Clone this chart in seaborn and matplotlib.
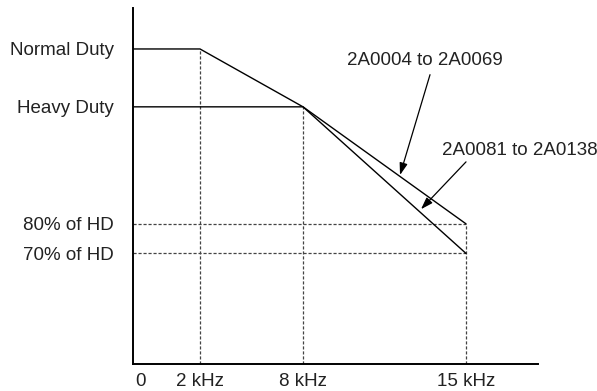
import matplotlib
matplotlib.use("Agg")
import matplotlib.pyplot as plt
import seaborn as sns
import pandas as pd

# Schematic derating chart (axes are not to scale)

freq_labels = ["0", "2 kHz", "8 kHz", "15 kHz"]
freq_pos = [7, 67, 170, 333]

level_labels = ["Normal Duty", "Heavy Duty", "80% of HD", "70% of HD"]
level_pos = [1.225, 1.0, 0.545, 0.43]

# curve for models 2A0004 to 2A0069 (Normal Duty rating)
nd_x = [0, 67, 170, 333]
nd_y = [1.225, 1.225, 1.0, 0.545]

# curve for models 2A0081 to 2A0138 (Heavy Duty rating)
hd_x = [0, 170, 333]
hd_y = [1.0, 1.0, 0.43]

sns.set_theme(style="ticks")
plt.rcParams["font.family"] = ["Liberation Sans", "DejaVu Sans"]

fig = plt.figure(figsize=(5.97, 3.91), dpi=100)
ax = fig.add_axes([0.2228, 0.069, 0.6784, 0.911])

df_nd = pd.DataFrame({"x": nd_x, "y": nd_y})
df_hd = pd.DataFrame({"x": hd_x, "y": hd_y})
sns.lineplot(data=df_nd, x="x", y="y", sort=False, color="black", lw=1.0, ax=ax)
sns.lineplot(data=df_hd, x="x", y="y", sort=False, color="black", lw=1.0, ax=ax)

# dashed guide lines
dash = dict(color="#444444", lw=0.9, ls=(0, (2.5, 1.5)), zorder=1)
ax.vlines(nd_x[1], 0, nd_y[1], **dash)
ax.vlines(nd_x[2], 0, nd_y[2], **dash)
ax.vlines(nd_x[3], 0, nd_y[3], **dash)
ax.hlines(nd_y[3], 0, nd_x[3], **dash)
ax.hlines(hd_y[2], 0, hd_x[2], **dash)

ax.set_xlim(0, 405)
ax.set_ylim(0, 1.385)
ax.set_xticks(freq_pos)
ax.set_xticklabels(freq_labels)
ax.set_yticks(level_pos)
ax.set_yticklabels(level_labels)
ax.tick_params(axis="both", length=0, labelsize=13.5, colors="#222222")
ax.tick_params(axis="x", pad=6.5)
ax.tick_params(axis="y", pad=14)
ax.set_xlabel("")
ax.set_ylabel("")
sns.despine(ax=ax)
for s in ["left", "bottom"]:
    ax.spines[s].set_color("black")
    ax.spines[s].set_linewidth(1.4)

# callouts
ax.text(292, 1.163, "2A0004 to 2A0069", ha="center", va="baseline",
        fontsize=13.5, color="#222222")
ax.text(387, 0.813, "2A0081 to 2A0138", ha="center", va="baseline",
        fontsize=13.5, color="#222222")

arrow = dict(arrowstyle="-|>,head_length=0.6,head_width=0.2", color="black", lw=0.9,
             shrinkA=0, shrinkB=0)
ax.annotate("", xy=(267, 0.735), xytext=(297, 1.125), arrowprops=arrow)
ax.annotate("", xy=(288, 0.602), xytext=(333, 0.786), arrowprops=arrow)

fig.savefig("out.png", dpi=100)
